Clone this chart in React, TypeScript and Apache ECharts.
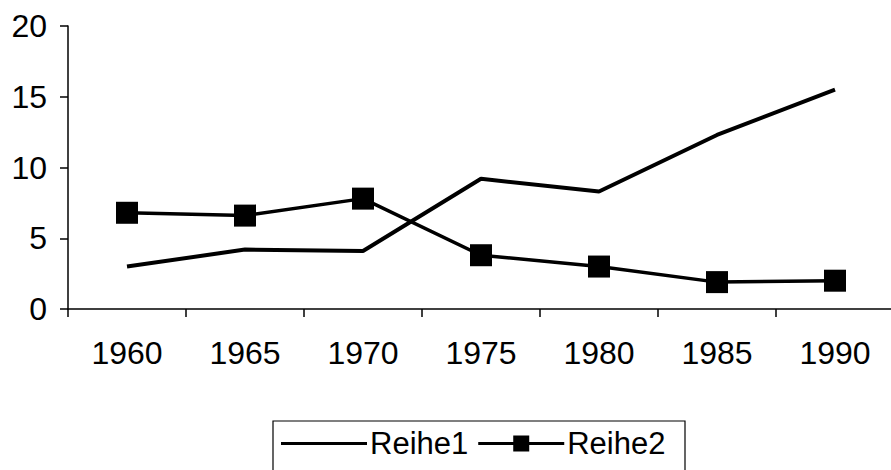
import React, { useEffect, useRef } from "react";
import * as echarts from "echarts";

const categories = ["1960", "1965", "1970", "1975", "1980", "1985", "1990"];
const reihe1 = [3.0, 4.2, 4.1, 9.2, 8.3, 12.3, 15.5];
const reihe2 = [6.8, 6.6, 7.8, 3.8, 3.0, 1.9, 2.0];
const seriesNames = ["Reihe1", "Reihe2"];

const FONT = "'Liberation Sans', Arial, sans-serif";

const ICON_LINE = "path://M0 6.5H86V9.5H0Z";
const ICON_LINE_RECT = "path://M0 6.5H35V0H51V6.5H86V9.5H51V16H35V9.5H0Z";

export default function App() {
  const ref = useRef<HTMLDivElement>(null);
  useEffect(() => {
    if (!ref.current) return;
    const chart = echarts.init(ref.current, null, { renderer: "svg" });
    chart.setOption({
      animation: false,
      backgroundColor: "#ffffff",
      textStyle: { fontFamily: FONT, color: "#000" },
      grid: {
        left: 68,
        top: 26,
        width: 826,
        height: 283,
        containLabel: false,
        outerBoundsMode: "none",
      },
      xAxis: {
        type: "category",
        data: categories,
        boundaryGap: true,
        axisLine: { show: true, lineStyle: { color: "#000", width: 1.5 } },
        axisTick: { show: true, length: 8, lineStyle: { color: "#000", width: 1.5 } },
        axisLabel: { color: "#000", fontSize: 32, fontFamily: FONT, margin: 28 },
        splitLine: { show: false },
      },
      yAxis: {
        type: "value",
        min: 0,
        max: 20,
        interval: 5,
        axisLine: { show: true, lineStyle: { color: "#000", width: 1.5 } },
        axisTick: { show: true, length: 8, lineStyle: { color: "#000", width: 1.5 } },
        axisLabel: { color: "#000", fontSize: 32, fontFamily: FONT, margin: 21 },
        splitLine: { show: false },
      },
      legend: {
        left: 281,
        top: 428,
        padding: 0,
        itemWidth: 86,
        itemHeight: 16,
        itemGap: 10,
        symbolKeepAspect: true,
        textStyle: { fontSize: 31, fontFamily: FONT, color: "#000", padding: [0, 0, 0, -2] },
        data: [
          { name: seriesNames[0], icon: ICON_LINE },
          { name: seriesNames[1], icon: ICON_LINE_RECT },
        ],
      },
      graphic: [
        {
          type: "rect",
          shape: { x: 273, y: 421, width: 412, height: 80 },
          style: { fill: "none", stroke: "#000", lineWidth: 1.2 },
          silent: true,
        },
      ],
      series: [
        {
          name: seriesNames[0],
          type: "line",
          data: reihe1,
          symbol: "none",
          lineStyle: { color: "#000", width: 4 },
          itemStyle: { color: "#000" },
        },
        {
          name: seriesNames[1],
          type: "line",
          data: reihe2,
          symbol: "rect",
          symbolSize: 22,
          lineStyle: { color: "#000", width: 3.5 },
          itemStyle: { color: "#000" },
        },
      ],
    });
    return () => chart.dispose();
  }, []);
  return (
    <div
      ref={ref}
      style={{ position: "fixed", left: 0, top: 0, width: 891, height: 470, background: "#fff" }}
    />
  );
}
